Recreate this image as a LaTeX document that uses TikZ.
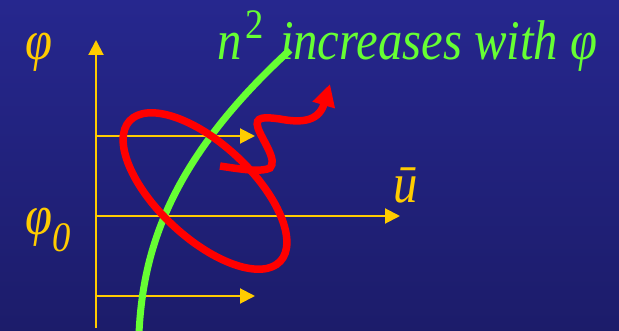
\documentclass[tikz,border=0pt]{standalone}
\usepackage{fontspec}
\setmainfont{Liberation Serif}[FakeStretch=0.87]
\usetikzlibrary{arrows.meta}

\definecolor{slidetop}{RGB}{38,39,142}
\definecolor{slidebot}{RGB}{28,28,106}
\definecolor{axisyellow}{RGB}{255,204,0}
\definecolor{curvegreen}{RGB}{102,255,51}
\definecolor{beamred}{RGB}{255,0,0}

\begin{document}
\begin{tikzpicture}[
  x=1pt, y=-1pt,
  font=\fontsize{56}{64}\selectfont\itshape,
  axis/.style={axisyellow, line width=2pt},
  ray/.style={axis, -{Triangle[length=15pt, width=15pt]}},
  index/.style={curvegreen, line width=7pt},
  beam/.style={beamred, line width=7.5pt},
  lbl/.style={inner sep=0pt, anchor=base west},
]
  \useasboundingbox (0,0) rectangle (619,331);
  \shade[top color=slidetop, bottom color=slidebot] (0,0) rectangle (619,331);

  % axes and rays
  \coordinate (base) at (96,328);
  \coordinate (top) at (96,40);
  \coordinate (high) at (96,136);
  \coordinate (hightip) at (255,136);
  \coordinate (mid) at (96,216);
  \coordinate (midtip) at (400,216);
  \coordinate (low) at (96,296);
  \coordinate (lowtip) at (255,296);

  \draw[ray] (base) -- (top);
  \draw[ray] (high) -- (hightip);
  \draw[ray] (mid) -- (midtip);
  \draw[ray] (low) -- (lowtip);

  \node[lbl, axisyellow] (phi) at (25,60) {φ};
  \node[lbl, axisyellow] (phizero) at (25,235) {φ\raisebox{-17pt}{\fontsize{42}{42}\selectfont 0}};
  \node[lbl, axisyellow] (ubar) at (393,203) {ū};

  % refractive index
  \draw[index] (139,333) .. controls (143,250) and (170,160) .. (290,50);
  \node[lbl, curvegreen] (law) at (217,60)
    {n\hspace{4pt}\raisebox{21pt}{\fontsize{42}{42}\selectfont\upshape 2}\hspace{4pt} increases with φ};

  % wave packet
  \coordinate (ctr) at (205,191);
  \draw[beam, rotate around={-43:(ctr)}] (ctr) ellipse [x radius=103pt, y radius=47pt];
  \draw[beam, -{Triangle[length=22pt, width=22pt]}]
    (220,166) .. controls (245,170) and (262,172) .. (270,168)
    .. controls (278,160) and (262,140) .. (258,128)
    .. controls (254,116) and (265,117) .. (280,119)
    .. controls (296,122) and (318,124) .. (330,84);
\end{tikzpicture}
\end{document}
